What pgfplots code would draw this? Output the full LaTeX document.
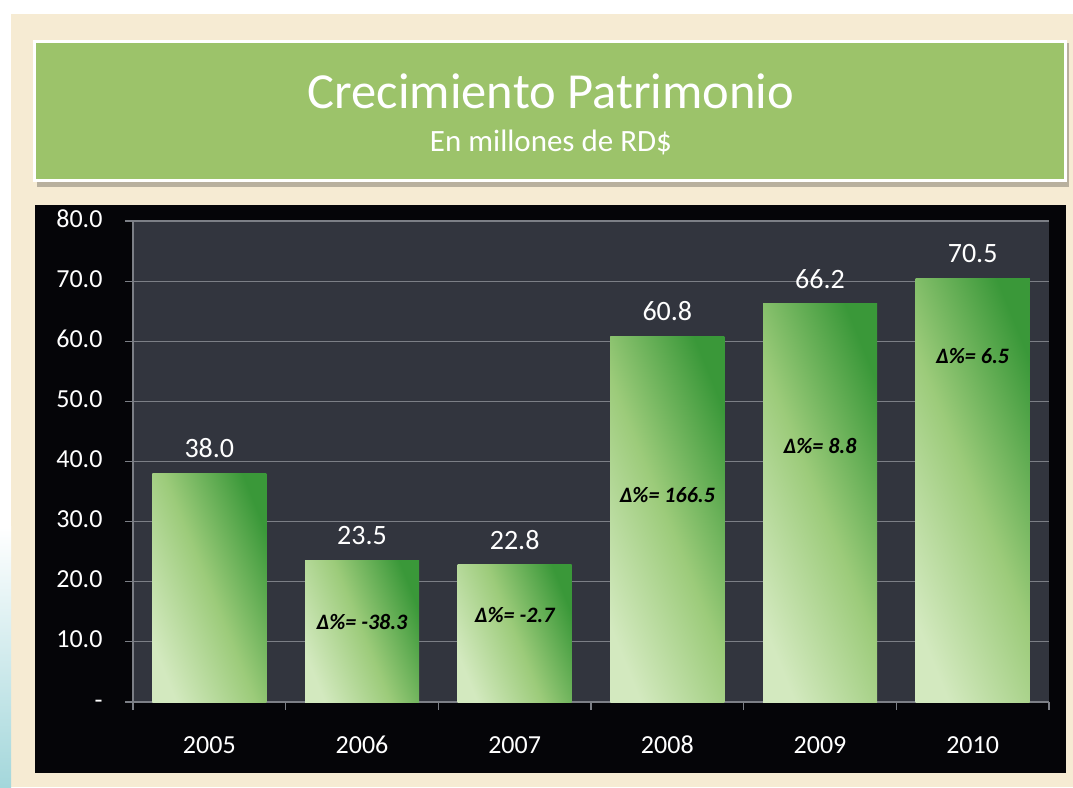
\documentclass[border=0pt]{standalone}
\usepackage{fontspec}
\setmainfont{Carlito}
\usepackage{pgfplots}
\pgfplotsset{compat=1.18}
\definecolor{cream}{HTML}{F6EBD3}
\definecolor{tealstrip}{HTML}{A4D7DB}
\definecolor{titlegreen}{HTML}{9CC36A}
\definecolor{chartblack}{HTML}{050508}
\definecolor{plotgray}{HTML}{32353E}
\definecolor{gridgray}{HTML}{7C7F86}
\definecolor{barlight}{HTML}{D3E9BF}
\definecolor{barmid}{HTML}{9CCB7A}
\definecolor{bardark}{HTML}{3A9839}
\begin{document}
\begin{tikzpicture}[x=1pt,y=1pt]
\fill[white] (0,0) rectangle (1073,787);
\fill[cream] (11,0) rectangle (1073,773);
\shade[top color=white, bottom color=tealstrip] (0,0) rectangle (11,260);
% title box
\fill[black, opacity=0.25] (37,600) rectangle (1069,744);
\filldraw[fill=titlegreen, draw=white, line width=3pt] (34.5,606.5) rectangle (1065.5,745.5);
\node[white, anchor=base, inner sep=0pt, font=\fontsize{50.5}{60}\selectfont] at (551,678) {Crecimiento Patrimonio};
\node[white, anchor=base, inner sep=0pt, font=\fontsize{31}{37}\selectfont] at (551,635) {En millones de RD\$};
% chart area
\fill[chartblack] (35,14) rectangle (1066,582);
\begin{axis}[
  at={(133pt,85pt)}, anchor=south west,
  scale only axis, width=916pt, height=481pt,
  xmin=-0.5, xmax=5.5, ymin=0, ymax=80,
  axis background/.style={fill=plotgray},
  axis x line*=bottom, axis y line*=left,
  axis line style={draw=gridgray, line width=1.2pt},
  ytick={0,10,20,30,40,50,60,70,80},
  yticklabels={-,10.0,20.0,30.0,40.0,50.0,60.0,70.0,80.0},
  ymajorgrids, grid style={draw=gridgray, line width=1.2pt},
  xtick={-0.5,0.5,1.5,2.5,3.5,4.5,5.5},
  xticklabels={},
  extra x ticks={0,1,2,3,4,5},
  extra x tick labels={2005,2006,2007,2008,2009,2010},
  extra x tick style={tick style={draw=none}, xticklabel style={yshift=-19pt}},
  typeset ticklabels with strut,
  tick align=outside,
  major tick length=8pt,
  tick style={draw=gridgray, line width=1.2pt},
  ticklabel style={white, font=\fontsize{26}{30}\selectfont},
  yticklabel style={xshift=-19pt},
  /pgf/number format/assume math mode=true,
  ybar, bar width=114pt, bar shift=0pt,
  nodes near coords={\pgfmathprintnumber[fixed,precision=1,zerofill]{\pgfplotspointmeta}},
  nodes near coords style={white, font=\fontsize{28}{32}\selectfont, anchor=south, yshift=12pt},
  clip=false,
  every axis plot/.append style={draw=none, left color=barlight, right color=bardark, middle color=barmid, shading angle=112},
]
\addplot coordinates {(0,38.0)};
\addplot coordinates {(1,23.5)};
\addplot coordinates {(2,22.8)};
\addplot coordinates {(3,60.8)};
\addplot coordinates {(4,66.2)};
\addplot coordinates {(5,70.5)};
\begin{scope}[every node/.style={black, font=\fontsize{22}{26}\selectfont\bfseries\itshape}]
\node at (axis cs:1,13.3) {Δ\%= -38.3};
\node at (axis cs:2,14.5) {Δ\%= -2.7};
\node at (axis cs:3,34.4) {Δ\%= 166.5};
\node at (axis cs:4,42.6) {Δ\%= 8.8};
\node at (axis cs:5,57.6) {Δ\%= 6.5};
\end{scope}
\end{axis}
\end{tikzpicture}
\end{document}
